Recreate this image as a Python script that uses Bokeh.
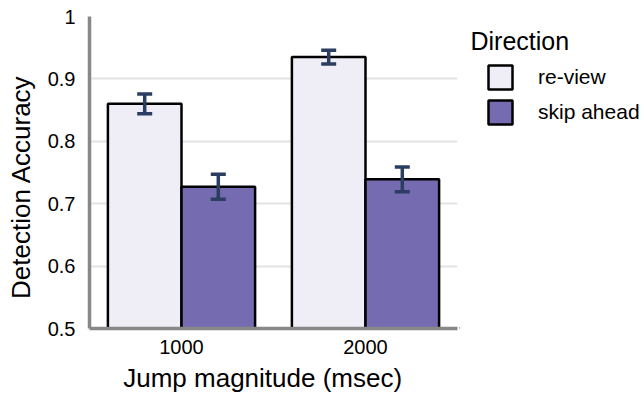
from bokeh.plotting import figure
from bokeh.layouts import row
from bokeh.models import (ColumnDataSource, FactorRange, Range1d, Whisker, TeeHead,
                          Legend, LegendItem, Label, FixedTicker, CustomJSTickFormatter)
from bokeh.transform import dodge
from bokeh.embed import file_html
from bokeh.resources import INLINE

# Detection accuracy by jump magnitude and direction
magnitudes = ["1000", "2000"]
directions = ["re-view", "skip ahead"]
review_acc = [0.860, 0.935]
review_err = [0.016, 0.011]
skip_acc = [0.727, 0.739]
skip_err = [0.020, 0.020]
y_ticks = [0.5, 0.6, 0.7, 0.8, 0.9, 1.0]

FONT = "Liberation Sans"
REVIEW_COLOR = "#efedf5"
SKIP_COLOR = "#756bb1"
ERR_COLOR = "#2b3d60"
AXIS_COLOR = "#888888"
NBSP = "\u00a0"


def make_source(acc, err):
    return ColumnDataSource(dict(
        mag=magnitudes,
        acc=acc,
        upper=[a + e for a, e in zip(acc, err)],
        lower=[a - e for a, e in zip(acc, err)],
    ))


review_src = make_source(review_acc, review_err)
skip_src = make_source(skip_acc, skip_err)

p = figure(
    width=459, height=399,
    x_range=FactorRange(*magnitudes), y_range=Range1d(0.5, 1.0),
    output_backend="svg", toolbar_location=None,
    min_border_left=89, min_border_right=2, min_border_top=16, min_border_bottom=71,
)
p.outline_line_color = None

bar_style = dict(bottom=0.5, width=0.4, line_color="black", line_width=2.5)
p.vbar(x=dodge("mag", -0.2, range=p.x_range), top="acc", source=review_src,
       fill_color=REVIEW_COLOR, **bar_style)
p.vbar(x=dodge("mag", 0.2, range=p.x_range), top="acc", source=skip_src,
       fill_color=SKIP_COLOR, **bar_style)

# error bars drawn above the bars
for src, off in ((review_src, -0.2), (skip_src, 0.2)):
    w = Whisker(source=src, base=dodge("mag", off, range=p.x_range), upper="upper", lower="lower",
                line_color=ERR_COLOR, line_width=3.5, level="overlay",
                upper_head=TeeHead(size=15, line_color=ERR_COLOR, line_width=3.5),
                lower_head=TeeHead(size=15, line_color=ERR_COLOR, line_width=3.5))
    p.add_layout(w)

# grid
p.xgrid.grid_line_color = None
p.ygrid.grid_line_color = "#e3e3e3"
p.ygrid.grid_line_width = 2
p.ygrid.ticker = FixedTicker(ticks=y_ticks)

# axes
p.yaxis.ticker = FixedTicker(ticks=y_ticks)
p.yaxis.formatter = CustomJSTickFormatter(code="return tick >= 0.999 ? '1' : tick.toFixed(1);")
for ax in (p.xaxis[0], p.yaxis[0]):
    ax.axis_line_color = AXIS_COLOR
    ax.axis_line_width = 3.5
    ax.major_tick_line_color = None
    ax.minor_tick_line_color = None
    ax.major_label_text_font = FONT
    ax.major_label_text_font_size = "20px"
    ax.major_label_text_color = "black"
    ax.axis_label_text_font = FONT
    ax.axis_label_text_font_size = "26px"
    ax.axis_label_text_font_style = "normal"
    ax.axis_label_text_color = "black"
# trailing no-break spaces nudge the centred titles off the frame centre
p.xaxis.axis_label = "Jump magnitude (msec)" + NBSP * 3
p.yaxis.axis_label = "Detection Accuracy" + NBSP * 4
p.xaxis.major_label_standoff = 5
p.xaxis.axis_label_standoff = 6
p.yaxis.major_label_standoff = 8
p.yaxis.axis_label_standoff = 9

# legend panel; its frame lines up with the chart frame (top 16, bottom 328)
lg = figure(
    width=185, height=399, x_range=Range1d(0, 185), y_range=Range1d(0, 312),
    output_backend="svg", toolbar_location=None,
    x_axis_location=None, y_axis_location=None,
    min_border_left=0, min_border_right=0, min_border_top=16, min_border_bottom=71,
)
lg.outline_line_color = None
lg.xgrid.visible = False
lg.ygrid.visible = False

# key swatches: one bar each, parked outside the visible range
key_data = dict(x=[-1000], top=[0])
key_review = lg.vbar(x="x", top="top", width=1, source=ColumnDataSource(key_data),
                     fill_color=REVIEW_COLOR, line_color="black", line_width=2.5)
key_skip = lg.vbar(x="x", top="top", width=1, source=ColumnDataSource(key_data),
                   fill_color=SKIP_COLOR, line_color="black", line_width=2.5)

legend = Legend(
    items=[LegendItem(label=directions[0], renderers=[key_review]),
           LegendItem(label=directions[1], renderers=[key_skip])],
    location=(26, 201),
    border_line_color=None, background_fill_alpha=0,
    padding=0, margin=0, spacing=5,
    glyph_width=30, glyph_height=30, label_standoff=23,
    label_text_font=FONT, label_text_font_size="21px", label_text_color="black",
)
lg.add_layout(legend)

lg.add_layout(Label(x=11, y=288, x_units="screen", y_units="screen", text="Direction",
                    text_font=FONT, text_font_size="25px", text_color="black",
                    text_baseline="alphabetic"))

layout = row(p, lg, spacing=0)
open("out.html", "w").write(file_html(layout, INLINE))
